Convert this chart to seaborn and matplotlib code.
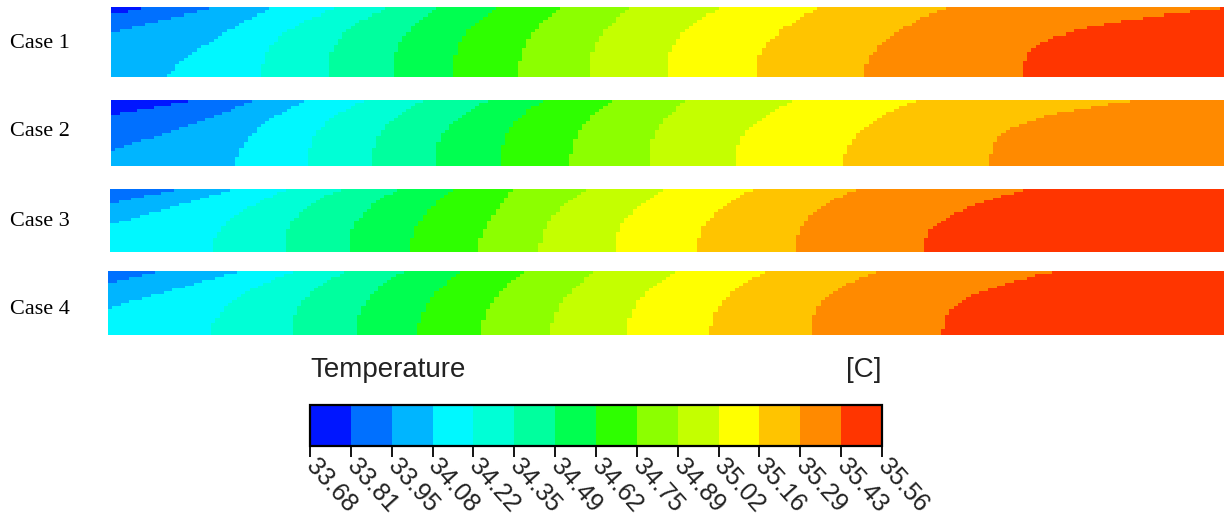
import numpy as np
import pandas as pd
import seaborn as sns
import matplotlib
matplotlib.use("Agg")
import matplotlib.pyplot as plt
import matplotlib.patches as mpatches
from matplotlib.colors import ListedColormap, BoundaryNorm

# ---------------- data ----------------
case_names = ["Case 1", "Case 2", "Case 3", "Case 4"]

# temperature band limits of the legend [C]
levels = [33.68, 33.81, 33.95, 34.08, 34.22, 34.35, 34.49, 34.62,
          34.75, 34.89, 35.02, 35.16, 35.29, 35.43, 35.56]
level_labels = ["33.68", "33.81", "33.95", "34.08", "34.22", "34.35", "34.49",
                "34.62", "34.75", "34.89", "35.02", "35.16", "35.29", "35.43", "35.56"]
band_colors = ["#0016ff", "#0070ff", "#00b5ff", "#00f8ff", "#00ffd6", "#00ff9e",
               "#00ff50", "#2eff00", "#8cff00", "#c4ff00", "#ffff00", "#ffc400",
               "#ff8a00", "#ff3500"]

# iso-line positions (percent of channel length) of the 13 internal band limits,
# read at the bottom wall, at mid-height and at the top wall of every channel
case1_bottom = [-22.4, -15.6, 5.0, 13.6, 19.5, 25.3, 30.8, 36.6, 42.9, 49.9, 57.9, 67.7, 82.0]
case1_mid    = [-9.7, -3.1, 8.9, 14.7, 20.3, 26.0, 31.4, 37.4, 43.7, 50.7, 59.1, 69.4, 83.8]
case1_top    = [3.1, 9.6, 14.5, 20.6, 25.1, 29.6, 34.8, 40.4, 46.9, 54.9, 63.9, 75.2, 101.1]

case2_bottom = [-25.3, -5.4, 11.2, 17.7, 23.5, 29.1, 35.0, 41.3, 48.3, 56.1, 65.8, 79.0, 103.3]
case2_mid    = [-8.9, 4.9, 12.8, 18.5, 24.2, 29.9, 35.6, 42.0, 48.9, 57.0, 67.2, 80.2, 105.1]
case2_top    = [7.6, 13.1, 17.6, 23.0, 28.2, 34.1, 39.0, 45.3, 51.9, 61.5, 72.5, 92.8, 115.9]

case3_bottom = [-40.0, -21.4, -8.5, 9.1, 15.6, 21.4, 27.0, 32.9, 38.6, 45.2, 52.7, 61.6, 73.0]
case3_mid    = [-30.0, -7.5, 1.3, 10.7, 16.4, 22.2, 27.8, 34.1, 39.5, 46.2, 53.7, 62.4, 74.7]
case3_top    = [-20.0, 6.4, 11.3, 16.1, 20.9, 26.0, 31.1, 36.3, 42.8, 49.8, 57.9, 67.4, 82.6]

case4_bottom = [-40.0, -20.1, -8.5, 9.2, 16.4, 22.2, 27.8, 33.5, 39.7, 46.5, 54.0, 63.0, 74.8]
case4_mid    = [-30.0, -7.7, 1.6, 11.0, 17.3, 23.0, 28.7, 34.4, 40.6, 47.4, 55.0, 63.9, 76.3]
case4_top    = [-20.0, 4.9, 11.9, 16.7, 21.5, 26.6, 31.7, 37.4, 43.8, 51.0, 59.1, 69.2, 85.1]

case_bottoms = [case1_bottom, case2_bottom, case3_bottom, case4_bottom]
case_mids = [case1_mid, case2_mid, case3_mid, case4_mid]
case_tops = [case1_top, case2_top, case3_top, case4_top]

# ---------------- layout ----------------
W, H = 1224, 524
fig = plt.figure(figsize=(W / 100, H / 100), dpi=100)


def box(x0, y0, x1, y1):
    return [x0 / W, 1 - y1 / H, (x1 - x0) / W, (y1 - y0) / H]


strip_boxes = [(111, 7, 1224, 77), (111, 100, 1224, 166),
               (110, 189, 1224, 252), (108, 271, 1224, 335)]
label_y = [44, 131, 222, 309]
cbar_box = (310, 405, 882, 446)

cmap = ListedColormap(band_colors)
norm = BoundaryNorm(levels, ncolors=len(band_colors))
band_mid = [(levels[i] + levels[i + 1]) / 2 for i in range(len(band_colors))]

nx, ny = 260, 22
xc = (np.arange(nx) + 0.5) / nx * 100.0
yc = (np.arange(ny) + 0.5) / ny
X, Y = np.meshgrid(xc, yc)


def iso_x(b, m, t, y):
    r = np.clip((m - b) / (t - b), 0.02, 0.98)
    p = np.log(r) / np.log(0.5)
    return b + (t - b) * y ** p


cax = fig.add_axes(box(*cbar_box))

for i, name in enumerate(case_names):
    ax = fig.add_axes(box(*strip_boxes[i]))
    band = np.zeros_like(X, dtype=int)
    for b, m, t in zip(case_bottoms[i], case_mids[i], case_tops[i]):
        band += (X >= iso_x(b, m, t, Y)).astype(int)
    field = np.array(band_mid)[band][::-1]  # top wall first
    df = pd.DataFrame(field)
    sns.heatmap(df, ax=ax, cmap=cmap, norm=norm,
                cbar=(i == 0), cbar_ax=cax if i == 0 else None,
                cbar_kws={"orientation": "horizontal", "ticks": levels} if i == 0 else None,
                xticklabels=False, yticklabels=False)
    ax.set_xlabel("")
    ax.set_ylabel("")
    fig.text(10 / W, 1 - label_y[i] / H, name, ha="left", va="center",
             fontsize=16, family="Liberation Serif", color="black")

# colour bar styling
cax.tick_params(axis="x", length=8, width=1.3, direction="out", pad=4, colors="black")
cax.set_xticks(cax.get_xticks())
cax.set_xticklabels(level_labels)
for lab in cax.get_xticklabels():
    lab.set_rotation(-48)
    lab.set_rotation_mode("anchor")
    lab.set_ha("left")
    lab.set_va("center")
    lab.set_fontsize(18)
    lab.set_family("Liberation Sans")
    lab.set_color("#222222")

fig.text(310 / W, 1 - 370 / H, "Temperature", ha="left", va="center",
         fontsize=20, family="Liberation Sans", color="#222222")
fig.text(882 / W, 1 - 370 / H, "[C]", ha="right", va="center",
         fontsize=20, family="Liberation Sans", color="#222222")

cax.add_patch(mpatches.Rectangle((0, 0), 1, 1, transform=cax.transAxes, fill=False,
                                 edgecolor="black", linewidth=1.6, zorder=10, clip_on=False))

fig.savefig("out.png", dpi=100, facecolor="white")
